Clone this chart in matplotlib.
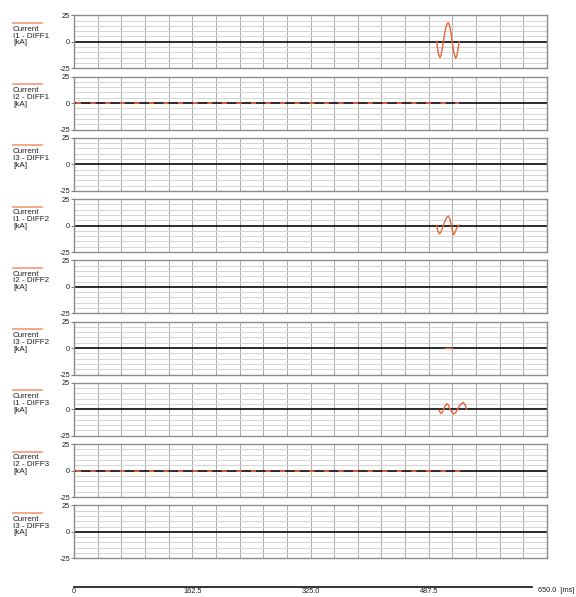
import numpy as np
import matplotlib
matplotlib.use("Agg")
import matplotlib.pyplot as plt

plt.rcParams['font.family'] = ['Liberation Sans', 'DejaVu Sans']
plt.rcParams['lines.scale_dashes'] = False

# ---------------- data ----------------
quantity = "Current"
unit = "[kA]"
channels = ["I1 - DIFF1", "I2 - DIFF1", "I3 - DIFF1",
            "I1 - DIFF2", "I2 - DIFF2", "I3 - DIFF2",
            "I1 - DIFF3", "I2 - DIFF3", "I3 - DIFF3"]

y_ticks = [-25, 0, 25]
y_tick_labels = ["-25", "0", "25"]
x_ticks = [0, 162.5, 325.0, 487.5]
x_tick_labels = ["0", "162.5", "325.0", "487.5"]
x_end_label = "650.0  [ms]"

# I1 - DIFF1
t_i1_d1 = [498.4, 499.5, 501.0, 502.9, 504.5, 506.5, 508.5, 510.5, 512.5, 514.3,
           516.0, 518.0, 520.0, 522.0, 524.5, 526.5, 528.0, 529.4]
v_i1_d1 = [0.5, -5.5, -12.0, -14.8, -12.5, -5.0, 4.0, 12.0, 16.8, 17.9,
           15.8, 8.5, -1.5, -10.5, -15.7, -12.0, -6.0, 0.0]
# I2 - DIFF1 (small residual, drawn dashed)
t_i2_d1 = [2.7, 529.0]
v_i2_d1 = [-0.3, -0.3]
# I1 - DIFF2
t_i1_d2 = [498.4, 500.0, 502.0, 504.0, 506.5, 509.0, 511.5, 514.3, 516.5, 518.5,
           521.2, 523.5, 526.0, 529.4]
v_i1_d2 = [0.0, -5.0, -7.9, -6.5, -2.0, 3.0, 7.0, 8.8, 6.5, 0.5,
           -8.8, -6.5, -2.5, 0.5]
# I3 - DIFF2
t_i3_d2 = [509.8, 519.0]
v_i3_d2 = [-0.4, -0.4]
# I1 - DIFF3
t_i1_d3 = [501.5, 504.3, 506.5, 509.0, 512.1, 514.5, 517.0, 521.2, 524.5, 527.5,
           531.0, 534.9, 537.5, 539.6]
v_i1_d3 = [-1.0, -4.0, -2.5, 2.0, 5.3, 4.0, 0.0, -4.6, -3.0, 0.5,
           4.5, 6.6, 4.0, 0.0]
# I2 - DIFF3 (small residual, drawn dashed)
t_i2_d3 = [2.7, 541.0]
v_i2_d3 = [-0.3, -0.3]

series = {
    0: (t_i1_d1, v_i1_d1, 'solid'),
    1: (t_i2_d1, v_i2_d1, 'dashed'),
    3: (t_i1_d2, v_i1_d2, 'solid'),
    5: (t_i3_d2, v_i3_d2, 'solid'),
    6: (t_i1_d3, v_i1_d3, 'solid'),
    7: (t_i2_d3, v_i2_d3, 'dashed'),
}

# ---------------- layout ----------------
W, H = 576, 597
fig = plt.figure(figsize=(W / 100, H / 100), dpi=100)
fig.patch.set_facecolor('white')

def fx(px):
    return px / W

def fy(py):
    return 1 - py / H

LEFT, RIGHT = 74, 547
TOP0, STEP, PH = 15.3, 61.25, 53

wave_color = '#e8653a'
label_line_color = '#f29a72'
fs = 5.3
fs_lab = 5.8

for i, ch in enumerate(channels):
    top = TOP0 + STEP * i
    ax = fig.add_axes([fx(LEFT), fy(top + PH), fx(RIGHT - LEFT), PH / H])
    ax.set_xlim(0, 650)
    ax.set_ylim(-25, 25)
    ax.set_xticks(np.arange(0, 650.01, 32.5))
    ax.set_yticks(np.arange(-25, 25.01, 5), minor=True)
    ax.set_yticks(y_ticks)
    ax.set_yticklabels(y_tick_labels, fontsize=fs)
    ax.tick_params(axis='y', which='major', length=2, width=0.6, pad=1,
                   color='#606060', labelcolor='#202020')
    ax.tick_params(axis='y', which='minor', length=0)
    ax.tick_params(axis='x', length=0, labelbottom=False)
    ax.grid(axis='y', which='minor', color='#d4d4d4', lw=0.7)
    ax.grid(axis='x', which='major', color='#ababab', lw=0.7)
    for sp in ax.spines.values():
        sp.set_color('#8c8c8c')
        sp.set_linewidth(1.0)
    ax.axhline(0, color='#1a1a1a', lw=1.3, zorder=2)
    if i in series:
        t, v, style = series[i]
        if style == 'dashed':
            ax.plot(t, v, color=wave_color, lw=1.3, zorder=3,
                    dashes=(3.6, 6.9))
        else:
            ax.plot(t, v, color=wave_color, lw=1.0, zorder=3)

    # channel label at left
    fig.add_artist(plt.Line2D([fx(13), fx(42)], [fy(top + 7.6), fy(top + 7.6)],
                              color=label_line_color, lw=1.2))
    for k, txt in enumerate([quantity, ch, unit]):
        fig.text(fx(13), fy(top + 13.8 + 6.9 * k), txt, fontsize=fs_lab,
                 ha='left', va='center', color='#202020')

# bottom time axis
axx = fig.add_axes([fx(LEFT), fy(591), fx(RIGHT - LEFT), 4 / H])
axx.set_xlim(0, 650)
axx.set_ylim(0, 1)
axx.patch.set_alpha(0)
for name in ['top', 'left', 'right']:
    axx.spines[name].set_visible(False)
axx.spines['bottom'].set_position(('axes', 1.0))
axx.spines['bottom'].set_bounds(0, 629)
axx.spines['bottom'].set_linewidth(1.2)
axx.spines['bottom'].set_color('#101010')
axx.set_yticks([])
axx.set_xticks(x_ticks)
axx.set_xticklabels(x_tick_labels, fontsize=fs, color='#202020')
axx.tick_params(axis='x', length=0, pad=1)
fig.text(fx(574), fy(590.5), x_end_label, fontsize=fs, ha='right', va='center',
         color='#202020')

fig.savefig('out.png', dpi=100, facecolor='white')
